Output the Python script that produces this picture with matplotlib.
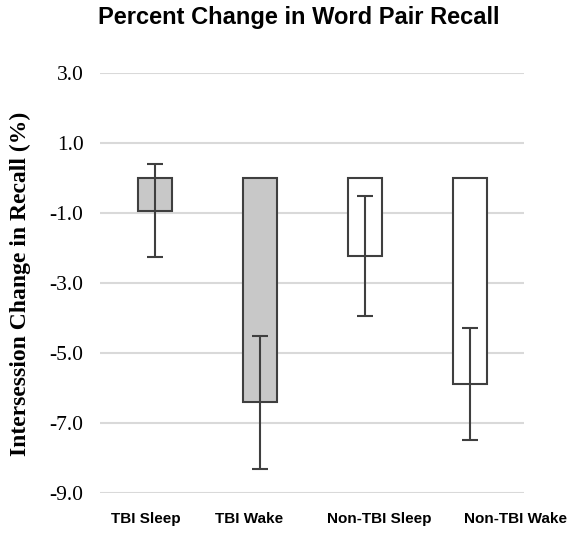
import matplotlib
matplotlib.use('Agg')
import matplotlib.pyplot as plt
import numpy as np

# data
groups = ['TBI Sleep', 'TBI Wake', 'Non-TBI Sleep', 'Non-TBI Wake']
change = [-0.93, -6.4, -2.23, -5.89]
err = [1.32, 1.9, 1.72, 1.6]
fills = ['#c8c8c8', '#c8c8c8', 'white', 'white']
yticks = [3.0, 1.0, -1.0, -3.0, -5.0, -7.0, -9.0]

# label offsets (category labels sit a bit right of the bars in the original)
label_shift = [-0.09, -0.1, 0.13, 0.43]

fig = plt.figure(figsize=(5.72, 5.35), dpi=100)
ax = fig.add_axes([0.175, 0.0785, 0.741, 0.785])

x = np.arange(len(groups))
ax.bar(x, change, width=0.32, color=fills, edgecolor='#3f3f3f', linewidth=1.5, zorder=3)
ax.errorbar(x, change, yerr=err, fmt='none', ecolor='#3f3f3f', elinewidth=1.5,
            capsize=6, capthick=1.5, zorder=4)

ax.set_ylim(-9, 3)
ax.set_xlim(-0.52, 3.51)
ax.set_yticks(yticks)
ax.set_yticklabels(['%.1f' % v for v in yticks], family='Liberation Serif', fontsize=15.5)
ax.yaxis.grid(True, color='#d9d9d9', linewidth=1.5, zorder=0)
ax.tick_params(axis='y', length=0, pad=12)
ax.set_xticks([])
for s in ax.spines.values():
    s.set_visible(False)

for i, g in enumerate(groups):
    ax.text(x[i] + label_shift[i], -9.55, g, ha='center', va='top',
            fontsize=11, fontweight='bold', family='Liberation Sans')

fig.text(20 / 572, 0.47, 'Intersession Change in Recall (%)', rotation=90,
         ha='center', va='center', family='Liberation Serif',
         fontweight='bold', fontsize=17)
fig.text(0.523, 0.968, 'Percent Change in Word Pair Recall', ha='center', va='center',
         fontsize=17, fontweight='bold', family='Liberation Sans')

fig.savefig('out.png', dpi=100)
